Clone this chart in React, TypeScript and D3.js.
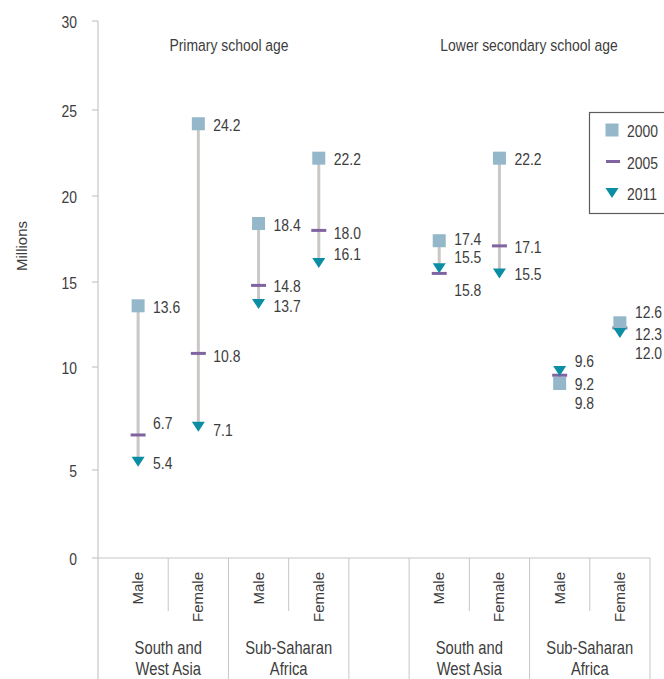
import React from 'react';
import * as d3 from 'd3';

// ---- data ----
const panelTitles = ['Primary school age', 'Lower secondary school age'];
const regionLines = [['South and', 'West Asia'], ['Sub-Saharan', 'Africa']];
const sexes = ['Male', 'Female'];
// slots along the x axis (one empty slot separating the two panels)
const slots = ['P-SWA-M', 'P-SWA-F', 'P-SSA-M', 'P-SSA-F', 'gap', 'L-SWA-M', 'L-SWA-F', 'L-SSA-M', 'L-SSA-F'];
const pointSlots = ['P-SWA-M', 'P-SWA-F', 'P-SSA-M', 'P-SSA-F', 'L-SWA-M', 'L-SWA-F', 'L-SSA-M', 'L-SSA-F'];
const years = ['2000', '2005', '2011'];
const values2000 = [13.6, 24.2, 18.4, 22.2, 17.4, 22.2, 9.2, 12.6];
const values2005 = [6.7, 10.8, 14.8, 18.0, 15.5, 17.1, 9.6, 12.3];
const values2011 = [5.4, 7.1, 13.7, 16.1, 15.8, 15.5, 9.8, 12.0];
const yTicks = [0, 5, 10, 15, 20, 25, 30];

// label vertical nudges (layout only), per point: [2000, 2005, 2011]
const labelNudge = [
  [0, -13, 0],
  [0, 2, 2],
  [0, 0, 1],
  [0, 2, -10],
  [-3, -17, 21],
  [0, 0, 0],
  [0, -15, 31],
  [-12, 5, 19],
];

const W = 664;
const H = 679;
const BASEFONT = "'Liberation Sans', Arial, sans-serif";
const TXT = '#3d3d3d';
const C2000 = '#94b7c9';
const C2005 = '#8064a2';
const C2011 = '#0b8ea3';
const AXIS = '#c6c6c6';

// condensed text: regular sans squeezed horizontally
function NText(props: {
  x: number;
  y: number;
  anchor?: 'start' | 'middle' | 'end';
  size?: number;
  central?: boolean;
  children: React.ReactNode;
}) {
  const { x, y, anchor = 'start', size = 17, central = false, children } = props;
  return (
    <text
      transform={`translate(${x},${y}) scale(0.82,1)`}
      textAnchor={anchor}
      dominantBaseline={central ? 'central' : undefined}
      fontFamily={BASEFONT}
      fontSize={size}
      fill={TXT}
    >
      {children}
    </text>
  );
}

export default function App() {
  const axisX = 98;
  const axisRight = 650;
  // the reference axis is drawn with slightly uneven tick spacing
  const y = d3.scaleLinear()
    .domain(yTicks)
    .range([558, 470, 367, 282, 196, 110, 21]);
  const x = d3.scaleBand<string>().domain(slots).range([108, axisRight]).padding(0);
  const bw = x.bandwidth();
  const y0 = y(0);

  const series = [values2000, values2005, values2011];

  const sq = 13;
  const dashW = 15;
  const triW = 13;
  const triH = 10;
  const tri = (cx: number, cy: number) =>
    `M${cx - triW / 2},${cy - triH / 2}L${cx + triW / 2},${cy - triH / 2}L${cx},${cy + triH / 2}Z`;

  const majorBounds = [slots[2], slots[4], slots[5], slots[7]].map((s) => x(s)!);
  majorBounds.push(axisRight);
  const minorBounds = [slots[1], slots[3], slots[6], slots[8]].map((s) => x(s)!);

  const groupCenters = [
    [slots[0], slots[1]],
    [slots[2], slots[3]],
    [slots[5], slots[6]],
    [slots[7], slots[8]],
  ].map(([a, b]) => (x(a)! + x(b)! + bw) / 2);

  const panelCenters = [229, 529];

  return (
    <svg
      width={W}
      height={H}
      style={{ position: 'absolute', left: 0, top: 0, background: '#fff' }}
    >
      {/* y axis */}
      <line x1={axisX} x2={axisX} y1={y(30)} y2={H} stroke={AXIS} strokeWidth={1.2} />
      {yTicks.map((t) => (
        <g key={t}>
          <line x1={axisX - 6} x2={axisX} y1={y(t)} y2={y(t)} stroke={AXIS} strokeWidth={1.2} />
          <NText x={77} y={y(t) + 1} anchor="end" central>
            {t}
          </NText>
        </g>
      ))}
      <text
        transform={`translate(21,246) rotate(-90)`}
        textAnchor="middle"
        dominantBaseline="central"
        fontFamily={BASEFONT}
        fontSize={15}
        fill={TXT}
      >
        Millions
      </text>

      {/* x axis */}
      <line x1={axisX} x2={axisRight} y1={y0} y2={y0} stroke={AXIS} strokeWidth={1.2} />
      {majorBounds.map((bx, i) => (
        <line key={'mj' + i} x1={bx} x2={bx} y1={y0} y2={H} stroke={AXIS} strokeWidth={1} />
      ))}
      {minorBounds.map((bx, i) => (
        <line key={'mn' + i} x1={bx} x2={bx} y1={y0} y2={611} stroke={AXIS} strokeWidth={1} />
      ))}
      {pointSlots.map((s, i) => {
        const cx = x(s)! + bw / 2;
        return (
          <text
            key={'sx' + s}
            transform={`translate(${cx + 5},572) rotate(-90)`}
            textAnchor="end"
            fontFamily={BASEFONT}
            fontSize={15}
            fill={TXT}
          >
            {sexes[i % 2]}
          </text>
        );
      })}
      {groupCenters.map((gc, i) => {
        const lines = regionLines[i % 2];
        return (
          <g key={'rg' + i}>
            <NText x={gc} y={654} anchor="middle" size={18}>{lines[0]}</NText>
            <NText x={gc} y={675} anchor="middle" size={18}>{lines[1]}</NText>
          </g>
        );
      })}

      {/* panel titles */}
      {panelTitles.map((t, i) => (
        <NText key={t} x={panelCenters[i]} y={51} anchor="middle" size={17}>
          {t}
        </NText>
      ))}

      {/* connectors */}
      {pointSlots.map((s, i) => {
        const cx = x(s)! + bw / 2;
        return (
          <line
            key={'cn' + s}
            x1={cx}
            x2={cx}
            y1={y(values2000[i])}
            y2={y(values2011[i])}
            stroke="#cbc7c5"
            strokeWidth={3}
          />
        );
      })}
      {/* 2005 dashes */}
      {pointSlots.map((s, i) => {
        const cx = x(s)! + bw / 2;
        return (
          <rect
            key={'d' + s}
            x={cx - dashW / 2}
            y={y(values2005[i]) - 1.5}
            width={dashW}
            height={3}
            fill={C2005}
          />
        );
      })}
      {/* 2000 squares */}
      {pointSlots.map((s, i) => {
        const cx = x(s)! + bw / 2;
        return (
          <rect
            key={'s' + s}
            x={cx - sq / 2}
            y={y(values2000[i]) - sq / 2}
            width={sq}
            height={sq}
            fill={C2000}
          />
        );
      })}
      {/* 2011 triangles */}
      {pointSlots.map((s, i) => {
        const cx = x(s)! + bw / 2;
        return <path key={'t' + s} d={tri(cx, y(values2011[i]))} fill={C2011} />;
      })}

      {/* value labels */}
      {pointSlots.map((s, i) => {
        const cx = x(s)! + bw / 2;
        return series.map((vals, k) => (
          <NText
            key={'l' + s + k}
            x={cx + 15}
            y={y(vals[i]) + labelNudge[i][k] + 1}
            central
          >
            {vals[i].toFixed(1)}
          </NText>
        ));
      })}

      {/* legend */}
      <rect x={589.5} y={112.5} width={100} height={101} fill="#fff" stroke="#5c5c5c" strokeWidth={1.2} />
      {years.map((yr, k) => {
        const ly = 130 + k * 31.5;
        return (
          <g key={yr}>
            {k === 0 && <rect x={612 - sq / 2} y={ly - sq / 2} width={sq} height={sq} fill={C2000} />}
            {k === 1 && <rect x={606} y={ly - 1.5} width={14} height={3} fill={C2005} />}
            {k === 2 && <path d={tri(612, ly)} fill={C2011} />}
            <NText x={627} y={ly + 1} central>
              {yr}
            </NText>
          </g>
        );
      })}
    </svg>
  );
}
